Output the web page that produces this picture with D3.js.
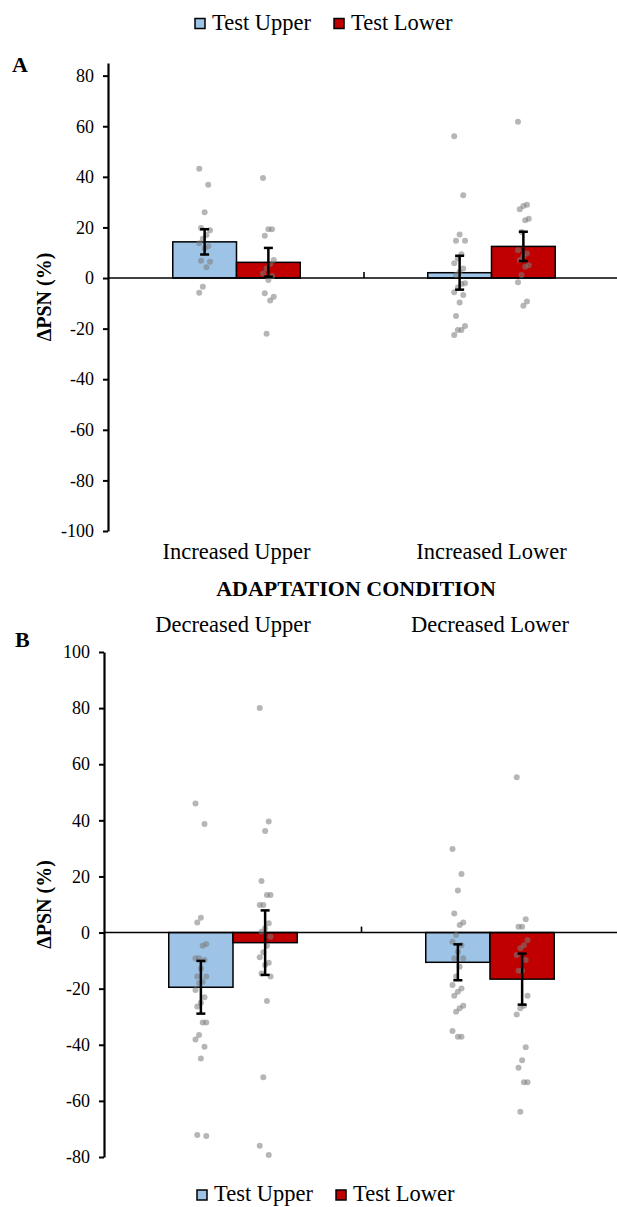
<!DOCTYPE html>
<html>
<head>
<meta charset="utf-8">
<script src="https://cdn.jsdelivr.net/npm/d3@7"></script>
<style>
  body { margin: 0; background: #fff; }
  svg { display: block; font-family: "Liberation Serif", "Times New Roman", serif; }
</style>
</head>
<body>
<svg width="617" height="1207"></svg>
<script>
// series and categories
const seriesNames = ['Test Upper', 'Test Lower'];
const seriesColors = ['#9DC3E6', '#C00000'];
const catsA = ['Increased Upper', 'Increased Lower'];
const catsB = ['Decreased Upper', 'Decreased Lower'];

// mean change per category, [Test Upper, Test Lower]
const meansA = [[14.3, 6.2], [2.1, 12.5]];
const meansB = [[-19.5, -3.6], [-10.6, -16.6]];
// error bar half length
const errA = [[5.0, 5.7], [6.7, 5.8]];
const errB = [[9.4, 11.5], [6.4, 9.1]];

// individual participants
const ptsA = [
  [
    [43.2, 36.9, 26, 19.8, 18.9, 17, 15.5, 13.7, 12.6, 11.7, 6.8, 6.4, 4.3, -3.4, -5.8],
    [39.5, 19.3, 19.3, 16.7, 7.1, 5.5, 3.8, 1.8, 0.8, -0.8, -6, -7.4, -8.9, -22]
  ],
  [
    [56, 32.7, 17.2, 14.7, 14.7, 9.4, 7.7, 5.8, 3.8, 2.5, 1.2, -2.1, -2.4, -3.7, -5.6, -6.7, -9.7, -15, -19, -20.5, -20.5, -22.5],
    [61.8, 29, 28.5, 27.2, 23.4, 22.8, 18.2, 11, 9.7, 8.5, 7.1, 5.1, 4.5, 1.2, -1.7, -9.3, -11]
  ]
];
const ptsB = [
  [
    [46, 38.7, 5.3, 3.6, -4.1, -4.7, -9.2, -9.2, -9.8, -12.8, -15.7, -15.7, -17.5, -18, -20.5, -23.1, -25, -26.4, -32.1, -32.1, -36.5, -38.1, -40.7, -44.9, -72.2, -72.5],
    [80, 39.6, 36.2, 18.4, 13.4, 13.4, 9.8, 9.8, 3.3, 1.5, 0.3, -1.5, -4.7, -7, -8.8, -10.8, -11.6, -14.6, -15.7, -24.4, -51.6, -76, -79.3]
  ],
  [
    [29.8, 20.9, 15, 6.8, 3.6, 2.7, -0.9, -3.3, -4.5, -6.8, -9.2, -9.2, -12.2, -15.7, -18.7, -19.9, -21.1, -22.5, -26.1, -27, -28.2, -35.1, -37.1, -37.1],
    [55.4, 4.7, 2.1, 2.1, -2.7, -4.5, -5.6, -8, -9.8, -13.6, -13.6, -22.5, -26.1, -27, -29.2, -40.9, -45.5, -48.2, -53.4, -53.4, -63.9]
  ]
];

const ticksA = [80, 60, 40, 20, 0, -20, -40, -60, -80, -100];
const ticksB = [100, 80, 60, 40, 20, 0, -20, -40, -60, -80];

const svg = d3.select('svg');

// draw one bar panel
const drawPanel = (opt) => {
  const g = svg.append('g');

  const x0 = d3.scaleBand().domain(opt.cats).range(opt.xRange)
    .paddingInner(0.5).paddingOuter(0.25);
  const x1 = d3.scaleBand().domain(seriesNames).range([0, x0.bandwidth()]);
  const y = d3.scaleLinear().domain(opt.yDomain).range(opt.yRange);

  const rows = [];
  opt.cats.forEach((c, ci) => {
    seriesNames.forEach((s, si) => {
      rows.push({ cat: c, ser: s, si: si, mean: opt.means[ci][si], err: opt.err[ci][si], pts: opt.pts[ci][si] });
    });
  });

  // bars
  g.selectAll('rect.bar').data(rows).enter().append('rect')
    .attr('class', 'bar')
    .attr('x', d => x0(d.cat) + x1(d.ser))
    .attr('width', x1.bandwidth())
    .attr('y', d => y(Math.max(0, d.mean)))
    .attr('height', d => Math.abs(y(d.mean) - y(0)))
    .attr('fill', d => seriesColors[d.si])
    .attr('stroke', '#000')
    .attr('stroke-width', 1.5);

  // zero line and category separator
  g.append('line')
    .attr('x1', opt.xRange[0]).attr('x2', opt.xRange[1])
    .attr('y1', y(0)).attr('y2', y(0))
    .attr('stroke', '#000').attr('stroke-width', 1.6);
  g.append('line')
    .attr('x1', x0.range()[0] + x0.step()).attr('x2', x0.range()[0] + x0.step())
    .attr('y1', y(0)).attr('y2', y(0) - 6)
    .attr('stroke', '#000').attr('stroke-width', 1.6);

  // dots
  const jitter = i => ((i * 5) % 7 - 3) * 1.8;
  rows.forEach(d => {
    const cx = x0(d.cat) + x1(d.ser) + x1.bandwidth() / 2;
    g.append('g').selectAll('circle').data(d.pts).enter().append('circle')
      .attr('cx', (v, i) => cx + jitter(i))
      .attr('cy', v => y(v))
      .attr('r', 3)
      .attr('fill', '#7a7a7a')
      .attr('fill-opacity', 0.55);
  });

  // error bars
  const eb = g.selectAll('g.err').data(rows).enter().append('g')
    .attr('class', 'err')
    .attr('transform', d => `translate(${x0(d.cat) + x1(d.ser) + x1.bandwidth() / 2},0)`);
  eb.append('line')
    .attr('y1', d => y(d.mean + d.err)).attr('y2', d => y(d.mean - d.err))
    .attr('stroke', '#000').attr('stroke-width', 2.5);
  eb.append('line').attr('x1', -4.5).attr('x2', 4.5)
    .attr('y1', d => y(d.mean + d.err)).attr('y2', d => y(d.mean + d.err))
    .attr('stroke', '#000').attr('stroke-width', 2.5);
  eb.append('line').attr('x1', -4.5).attr('x2', 4.5)
    .attr('y1', d => y(d.mean - d.err)).attr('y2', d => y(d.mean - d.err))
    .attr('stroke', '#000').attr('stroke-width', 2.5);

  // y axis
  const axis = g.append('g')
    .attr('transform', `translate(${opt.axisX},0)`)
    .call(d3.axisLeft(y).tickValues(opt.ticks).tickFormat(d => String(d))
      .tickSize(5).tickSizeOuter(0).tickPadding(9));
  axis.select('.domain').attr('stroke-width', 2.2);
  axis.selectAll('.tick line').attr('stroke-width', 2);
  axis.selectAll('.tick text')
    .attr('font-family', '"Liberation Serif", serif')
    .attr('font-size', 18)
    .attr('fill', '#000');

  // axis title
  const midY = (opt.yRange[0] + opt.yRange[1]) / 2;
  g.append('text')
    .attr('transform', `translate(51,${midY}) rotate(-90)`)
    .attr('text-anchor', 'middle')
    .attr('font-weight', 'bold')
    .attr('font-size', 20)
    .text('ΔPSN (%)');

  // category labels
  g.selectAll('text.cat').data(opt.cats).enter().append('text')
    .attr('class', 'cat')
    .attr('x', d => x0(d) + x0.bandwidth() / 2)
    .attr('y', opt.catY)
    .attr('text-anchor', 'middle')
    .attr('font-size', 22.5)
    .text(d => d);

  // panel letter
  g.append('text')
    .attr('x', opt.letterX).attr('y', opt.letterY)
    .attr('font-weight', 'bold').attr('font-size', 22)
    .text(opt.letter);
};

const drawLegend = (startX, baseY) => {
  const lg = svg.append('g');
  let x = startX;
  seriesNames.forEach((s, i) => {
    lg.append('rect')
      .attr('x', x).attr('y', baseY - 11)
      .attr('width', 10).attr('height', 10)
      .attr('fill', seriesColors[i])
      .attr('stroke', '#000').attr('stroke-width', 1.5);
    const t = lg.append('text')
      .attr('x', x + 17).attr('y', baseY)
      .attr('font-size', 22.5)
      .text(s);
    x += 17 + t.node().getComputedTextLength() + 23;
  });
};

drawLegend(195, 29.5);

drawPanel({
  cats: catsA, means: meansA, err: errA, pts: ptsA, ticks: ticksA,
  xRange: [109, 619], yDomain: [-100, 85], yRange: [531, 63],
  axisX: 108, catY: 559, letter: 'A', letterX: 12, letterY: 72
});

svg.append('text')
  .attr('x', 356).attr('y', 596)
  .attr('text-anchor', 'middle')
  .attr('font-weight', 'bold').attr('font-size', 22)
  .text('ADAPTATION CONDITION');

drawPanel({
  cats: catsB, means: meansB, err: errB, pts: ptsB, ticks: ticksB,
  xRange: [104.5, 618.5], yDomain: [-80, 100], yRange: [1157, 652],
  axisX: 104, catY: 632, letter: 'B', letterX: 15, letterY: 647
});

drawLegend(197, 1201);
</script>
</body>
</html>
